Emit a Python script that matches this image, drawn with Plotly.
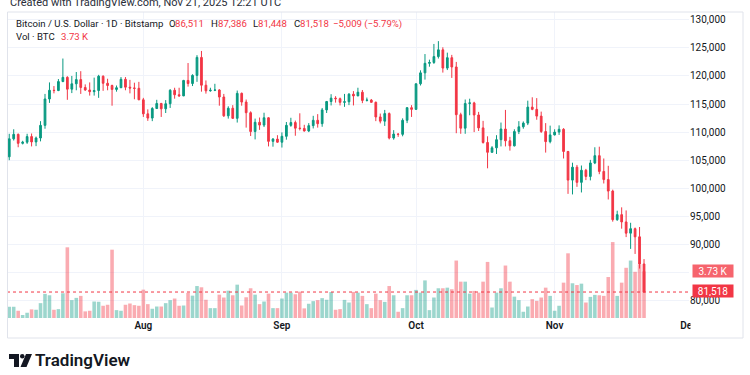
import plotly.graph_objects as go
import pandas as pd

# ---------------- data ----------------
dates = pd.date_range("2025-07-02", periods=143, freq="D")

opens = [105600, 108800, 109600, 108000, 108200, 109200, 108250, 108950, 111200, 115900,
         117450, 117400, 119000, 119750, 117650, 118600, 119350, 117950, 117500, 117200,
         117400, 119950, 118700, 118300, 117600, 117900, 119400, 118000, 117850, 117800,
         115750, 113250, 112500, 114200, 115100, 114150, 115050, 117450, 116650, 116450,
         119200, 118650, 120100, 123300, 118350, 117350, 117450, 117500, 116250, 112900,
         114250, 112450, 116900, 115350, 113450, 110100, 111750, 111250, 112550, 108350,
         108750, 108200, 109250, 111200, 111700, 110700, 110650, 110200, 111150, 112100,
         111500, 113950, 115450, 116050, 115950, 115300, 115400, 116750, 116450, 117100,
         115650, 115700, 115300, 112700, 111950, 113300, 108950, 109650, 109600, 112100,
         114350, 114050, 118600, 120550, 122250, 122400, 123450, 124650, 121400, 123250,
         121600, 113100, 110700, 115100, 115200, 113050, 110750, 108150, 106400, 107200,
         108650, 110550, 108450, 107550, 110100, 110950, 111600, 114450, 114050, 112850,
         110100, 108300, 109500, 110000, 110500, 106550, 101450, 103750, 101050, 103200,
         102100, 104500, 105800, 103000, 101550, 99500, 94400, 95300, 94000, 92000,
         92800, 91350, 86511]
highs = [109700, 110500, 109750, 108450, 109700, 109750, 109200, 111950, 116800, 118850,
         118200, 119450, 123100, 119950, 120000, 120700, 120850, 118500, 118850, 119700,
         120200, 120100, 119500, 118450, 118300, 119800, 119800, 119300, 118800, 118950,
         116100, 114050, 114450, 115750, 115200, 115700, 117650, 117900, 117900, 119300,
         122300, 120300, 123700, 124450, 119200, 117900, 118600, 117650, 116800, 114600,
         114800, 117400, 117050, 115800, 113700, 112400, 112600, 113450, 112650, 108950,
         109450, 109950, 111800, 112550, 112050, 113350, 111300, 111600, 112900, 113200,
         114300, 115550, 116750, 116400, 116150, 116800, 116950, 117300, 117900, 117500,
         116150, 115900, 115450, 113300, 113950, 113500, 110350, 109800, 112450, 114450,
         114800, 118650, 121000, 123900, 122900, 125700, 126200, 125100, 124150, 123750,
         122500, 113450, 115800, 115950, 115400, 113600, 112000, 109250, 107500, 109450,
         111700, 113950, 109150, 110500, 111950, 111900, 115600, 116200, 116050, 113650,
         111600, 111150, 110500, 111200, 110700, 106650, 104550, 104150, 104050, 103450,
         105050, 107300, 107400, 105300, 104000, 99750, 96000, 96600, 96050, 93850,
         93000, 93100, 87386]
lows = [105000, 108500, 107300, 107800, 107900, 107450, 107500, 108350, 110600, 115200,
        116900, 117300, 118900, 115750, 116950, 117450, 116800, 117350, 116500, 116500,
        116100, 117350, 117450, 114700, 117200, 117850, 117450, 116900, 115850, 115700,
        112700, 112000, 111950, 114150, 112700, 113400, 114300, 115950, 116300, 116400,
        118100, 118200, 118950, 117200, 116850, 117200, 117300, 114700, 112700, 112400,
        112350, 111700, 114700, 110800, 109300, 108700, 110400, 110900, 107450, 107400,
        108100, 107250, 108650, 110950, 109350, 110300, 110100, 110000, 110650, 110800,
        110950, 113400, 114750, 115250, 114750, 114500, 114800, 114750, 116400, 115150,
        115450, 115250, 111950, 111550, 111100, 108700, 108650, 109150, 109250, 111600,
        112700, 113950, 118300, 119350, 121650, 122150, 123100, 120600, 121050, 119650,
        109800, 109700, 109700, 113000, 110000, 110200, 107950, 103550, 106350, 106100,
        107450, 107450, 106700, 107450, 109650, 110600, 111250, 113900, 112200, 109850,
        106350, 108000, 109400, 109500, 105300, 99000, 98900, 100250, 99250, 101450,
        101400, 104300, 102500, 100850, 98000, 94050, 94200, 92800, 91300, 89200,
        88300, 85700, 81448]
closes = opens[1:] + [81518]

# volume, thousands of BTC
volumes_k = [0.90, 0.90, 0.58, 0.24, 0.42, 0.69, 0.66, 1.19, 1.93, 1.82,
             0.66, 0.71, 1.98, 5.66, 1.43, 1.61, 1.77, 0.53, 0.58, 1.32,
             1.30, 0.98, 1.06, 5.47, 0.63, 0.58, 1.06, 1.16, 1.03, 0.98,
             2.27, 1.11, 0.74, 0.92, 0.92, 1.19, 1.43, 1.56, 0.98, 1.00,
             2.01, 1.79, 2.56, 2.46, 1.46, 0.79, 0.79, 1.87, 1.64, 2.19,
             1.82, 2.67, 1.00, 1.66, 2.38, 1.87, 1.11, 1.32, 1.95, 0.79,
             0.79, 1.56, 2.03, 2.03, 1.90, 2.11, 0.77, 1.14, 1.35, 1.43,
             1.59, 1.46, 2.08, 0.66, 0.71, 1.45, 1.24, 2.09, 2.03, 1.77,
             1.11, 0.79, 1.95, 1.43, 1.29, 2.56, 1.82, 0.50, 0.79, 1.82,
             1.82, 2.25, 2.03, 3.01, 0.63, 1.64, 2.38, 2.38, 2.43, 2.30,
             4.60, 2.91, 2.91, 1.95, 2.17, 2.03, 2.91, 4.49, 0.84, 2.03,
             2.38, 4.20, 2.91, 1.71, 1.43, 0.50, 0.92, 1.51, 1.37, 1.64,
             2.43, 1.77, 0.58, 0.98, 2.83, 5.18, 2.78, 2.64, 2.75, 1.24,
             1.69, 1.85, 1.82, 1.77, 3.28, 6.08, 1.77, 2.83, 4.02, 4.60,
             3.70, 4.29, 3.73]

price_ticks = [80000, 85000, 90000, 95000, 100000, 105000, 110000, 115000, 120000, 125000, 130000]
price_tick_text = ["80,000", "", "90,000", "95,000", "100,000", "105,000", "110,000",
                   "115,000", "120,000", "125,000", "130,000"]
month_ticks = ["2025-08-01", "2025-09-01", "2025-10-01", "2025-11-01", "2025-12-01"]
month_text = ["Aug", "Sep", "Oct", "Nov", "Dec"]

last_price = 81518

# ---------------- style ----------------
W, H = 750, 375
PL, PR, PT, PB = 7, 689, 12, 318
UP, DN = "#089981", "#f23645"
UP_VOL, DN_VOL = "rgba(8,153,129,0.40)", "rgba(242,54,69,0.42)"
GRID = "#f0f3fa"
TXT = "#131722"
FONT = "Roboto"


def px_x(px):
    return (px - PL) / (PR - PL)


def px_y(py):
    return (PB - py) / (PB - PT)


vol_colors = [UP_VOL if c >= o else DN_VOL for o, c in zip(opens, closes)]

fig = go.Figure()
fig.add_trace(go.Bar(x=dates, y=volumes_k, marker=dict(color=vol_colors, line=dict(width=0)),
                     yaxis="y", hoverinfo="skip", showlegend=False))
fig.add_trace(go.Candlestick(
    x=dates, open=opens, high=highs, low=lows, close=closes, yaxis="y2",
    increasing=dict(line=dict(color=UP, width=1), fillcolor=UP),
    decreasing=dict(line=dict(color=DN, width=1), fillcolor=DN),
    whiskerwidth=0, showlegend=False))

shapes = [
    dict(type="line", xref="paper", x0=0, x1=1, yref="y2", y0=last_price, y1=last_price,
         line=dict(color=DN, width=1, dash="dot")),
    dict(type="rect", xref="paper", yref="paper", x0=px_x(7.5), x1=px_x(743), y0=px_y(338), y1=px_y(12),
         line=dict(color="#e0e3eb", width=1), fillcolor="rgba(0,0,0,0)", layer="above"),
    # price scale pane hides the right part of the last month label
    dict(type="rect", xref="paper", yref="paper", x0=px_x(690.5), x1=px_x(742), y0=px_y(337), y1=px_y(319),
         line=dict(width=0), fillcolor="white", layer="above"),
]


def path(pts):
    return "M " + " L ".join(f"{px_x(x):.5f},{px_y(y):.5f}" for x, y in pts) + " Z"


# TradingView logo mark
shapes.append(dict(type="path", xref="paper", yref="paper",
                   path=path([(9, 354), (19, 354), (19, 367), (14, 367), (14, 359), (9, 359)]),
                   fillcolor=TXT, line=dict(width=0), layer="above"))
shapes.append(dict(type="circle", xref="paper", yref="paper", x0=px_x(20), x1=px_x(24.5),
                   y0=px_y(358.5), y1=px_y(354), fillcolor=TXT, line=dict(width=0), layer="above"))
shapes.append(dict(type="path", xref="paper", yref="paper",
                   path=path([(26, 354), (32, 354), (26.5, 367), (20.5, 367)]),
                   fillcolor=TXT, line=dict(width=0), layer="above"))

annotations = []


def txt(x, y, s, color=TXT, size=9.6, weight=None):
    f = dict(family=FONT, size=size, color=color)
    if weight:
        f["weight"] = weight
    annotations.append(dict(xref="paper", yref="paper", x=px_x(x), y=px_y(y), text=s,
                            showarrow=False, xanchor="left", yanchor="middle", font=f))


txt(8, 2.5, "Created with TradingView.com, Nov 21, 2025 12:21 UTC", color="#2a2e39", size=11)
txt(14, 24, "Bitcoin / U.S. Dollar · 1D · Bitstamp")
txt(167, 24, "O")
txt(173, 24, "86,511", DN)
txt(208.5, 24, "H")
txt(216, 24, "87,386", DN)
txt(251, 24, "L")
txt(256, 24, "81,448", DN)
txt(291.5, 24, "C")
txt(298, 24, "81,518", DN)
txt(331, 24, "−5,009 (−5.79%)", DN)
txt(14, 36.5, "Vol · BTC")
txt(59, 36.5, "3.73 K", DN)
txt(33, 360, "TradingView", size=17, weight=600)

# price scale labels
for y, s, bg in [(271, "3.73 K", "#f6646d"), (291, "81,518", DN)]:
    annotations.append(dict(xref="paper", yref="paper", x=px_x(692), y=px_y(y), text=s,
                            showarrow=False, xanchor="left", yanchor="middle",
                            font=dict(family=FONT, size=10, color="white"),
                            bgcolor=bg, borderpad=1, width=38, height=10, align="center"))

fig.update_layout(
    width=W, height=H,
    margin=dict(l=PL, r=W - PR, t=PT, b=H - PB),
    paper_bgcolor="white", plot_bgcolor="white",
    showlegend=False, bargap=0.2, boxgap=0.45,
    font=dict(family=FONT, size=10, color=TXT),
    xaxis=dict(type="date", range=["2025-07-01 12:00", "2025-12-01 01:30"],
               tickvals=month_ticks, ticktext=month_text, showgrid=True, gridcolor=GRID,
               gridwidth=1, zeroline=False, showline=False, ticks="",
               tickfont=dict(family=FONT, size=10, color=TXT, weight=600),
               rangeslider=dict(visible=False), fixedrange=True),
    yaxis=dict(range=[0, 24.5], visible=False, showgrid=False, fixedrange=True),
    yaxis2=dict(overlaying="y", side="right", range=[76893, 131389],
                tickvals=price_ticks, ticktext=price_tick_text, showgrid=True, gridcolor=GRID,
                zeroline=False, showline=False, ticks="",
                tickfont=dict(family=FONT, size=10, color=TXT), fixedrange=True),
    shapes=shapes, annotations=annotations,
)

fig.write_html("out.html", config={"displayModeBar": False},
               post_script="document.body.style.margin='0';document.body.style.overflow='hidden';")
